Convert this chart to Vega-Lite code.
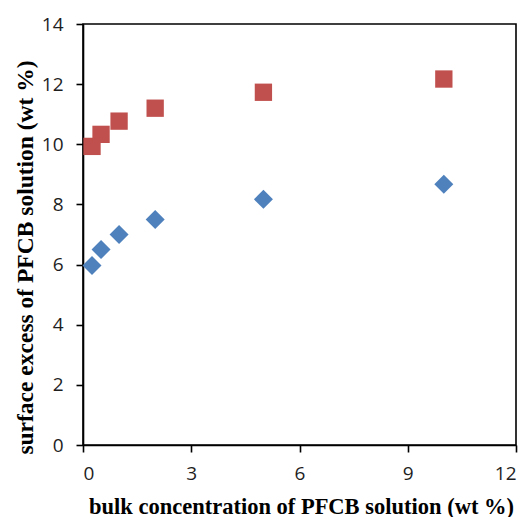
{
  "$schema": "https://vega.github.io/schema/vega-lite/v6.json",
  "autosize": "none",
  "width": 433,
  "height": 421,
  "padding": {"left": 83, "top": 24, "right": 11, "bottom": 72},
  "background": "white",
  "config": {
    "view": {"stroke": "black", "strokeWidth": 1.6},
    "axis": {
      "domainColor": "black",
      "domainWidth": 1.6,
      "tickColor": "black",
      "tickWidth": 1.6,
      "tickSize": 7,
      "grid": false,
      "labelFont": "Open Sans",
      "labelFontSize": 19,
      "labelColor": "#1e1e1e",
      "titleFont": "Liberation Serif",
      "titleFontWeight": "bold",
      "titleColor": "black"
    }
  },
  "data": {
    "values": [
      {"bulk": 0.25, "excess": 9.93, "series": "A"},
      {"bulk": 0.5, "excess": 10.33, "series": "A"},
      {"bulk": 1, "excess": 10.77, "series": "A"},
      {"bulk": 2, "excess": 11.2, "series": "A"},
      {"bulk": 5, "excess": 11.73, "series": "A"},
      {"bulk": 10, "excess": 12.17, "series": "A"},
      {"bulk": 0.25, "excess": 5.97, "series": "B"},
      {"bulk": 0.5, "excess": 6.5, "series": "B"},
      {"bulk": 1, "excess": 7.0, "series": "B"},
      {"bulk": 2, "excess": 7.5, "series": "B"},
      {"bulk": 5, "excess": 8.17, "series": "B"},
      {"bulk": 10, "excess": 8.67, "series": "B"}
    ]
  },
  "mark": {"type": "point", "filled": true, "opacity": 1},
  "encoding": {
    "x": {
      "field": "bulk",
      "type": "quantitative",
      "scale": {"domain": [0, 12], "nice": false},
      "axis": {
        "values": [0, 3, 6, 9, 12],
        "title": "bulk concentration of PFCB solution (wt %)",
        "labelPadding": 12,
        "titleFontSize": 22.5,
        "titleX": 218,
        "titleY": 68,
        "titleBaseline": "alphabetic"
      }
    },
    "y": {
      "field": "excess",
      "type": "quantitative",
      "scale": {"domain": [0, 14], "nice": false},
      "axis": {
        "values": [0, 2, 4, 6, 8, 10, 12, 14],
        "title": "surface excess of PFCB solution (wt %)",
        "labelPadding": 13,
        "titleFontSize": 23.5,
        "titleAngle": 270,
        "titleAlign": "center",
        "titleBaseline": "middle",
        "titleX": -58,
        "titleY": 233
      }
    },
    "shape": {
      "field": "series",
      "type": "nominal",
      "scale": {"domain": ["A", "B"], "range": ["square", "diamond"]},
      "legend": null
    },
    "size": {
      "field": "series",
      "type": "nominal",
      "scale": {"domain": ["A", "B"], "range": [300, 361]},
      "legend": null
    },
    "color": {
      "field": "series",
      "type": "nominal",
      "scale": {"domain": ["A", "B"], "range": ["#C0504D", "#4F81BD"]},
      "legend": null
    }
  }
}
